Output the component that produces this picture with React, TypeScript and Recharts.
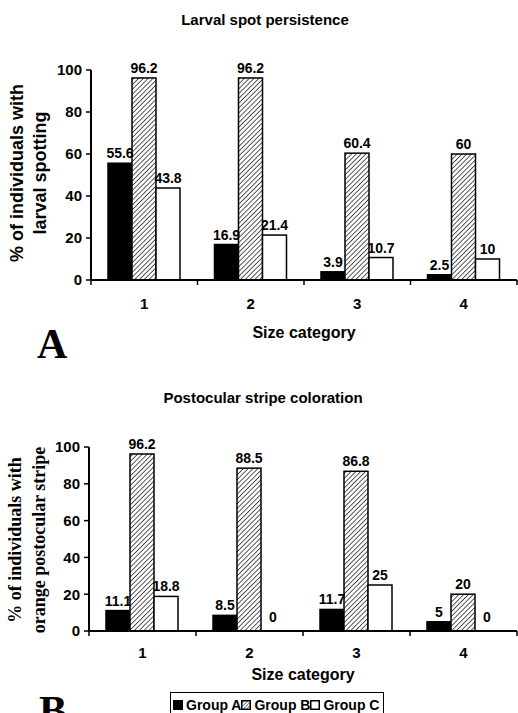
import React from 'react';
import { BarChart, Bar, XAxis, YAxis, LabelList, Legend } from 'recharts';

const categories = ['1', '2', '3', '4'];
const larvalGroupA = [55.6, 16.9, 3.9, 2.5];
const larvalGroupB = [96.2, 96.2, 60.4, 60];
const larvalGroupC = [43.8, 21.4, 10.7, 10];
const stripeGroupA = [11.1, 8.5, 11.7, 5];
const stripeGroupB = [96.2, 88.5, 86.8, 20];
const stripeGroupC = [18.8, 0, 25, 0];
const yTicks = [0, 20, 40, 60, 80, 100];
const seriesNames = ['Group A', 'Group B', 'Group C'];

const SANS = '"Liberation Sans", Arial, Helvetica, sans-serif';
const SERIF = '"Liberation Serif", "Times New Roman", serif';

const larvalData = categories.map((c, i) => ({ cat: c, a: larvalGroupA[i], b: larvalGroupB[i], c: larvalGroupC[i] }));
const stripeData = categories.map((c, i) => ({ cat: c, a: stripeGroupA[i], b: stripeGroupB[i], c: stripeGroupC[i] }));

const makeTick = (band: number, baseOff: number) => (props: any) => {
  const { x, y, payload } = props;
  const isLast = payload.value === categories[categories.length - 1];
  return (
    <g>
      <line x1={x - band / 2} y1={y} x2={x - band / 2} y2={y + 5} stroke="#000" strokeWidth={1.5} />
      {isLast && <line x1={x + band / 2} y1={y} x2={x + band / 2} y2={y + 5} stroke="#000" strokeWidth={1.5} />}
      <text x={x} y={y + baseOff} textAnchor="middle" fontFamily={SANS} fontWeight="bold" fontSize={15} fill="#000">
        {payload.value}
      </text>
    </g>
  );
};

const YLabel = (props: any) => {
  const { lines, xs, cy, font, size } = props;
  return (
    <g>
      {lines.map((l: string, i: number) => (
        <text
          key={i}
          x={xs[i]}
          y={cy}
          transform={`rotate(-90, ${xs[i]}, ${cy})`}
          textAnchor="middle"
          dominantBaseline="central"
          fontFamily={font}
          fontWeight="bold"
          fontSize={size}
          fill="#000"
        >
          {l}
        </text>
      ))}
    </g>
  );
};

const Hatch = ({ id }: { id: string }) => (
  <defs>
    <pattern id={id} patternUnits="userSpaceOnUse" width={3.4} height={3.4} patternTransform="rotate(45)">
      <rect width={3.4} height={3.4} fill="#fff" />
      <line x1={0} y1={0} x2={0} y2={3.4} stroke="#000" strokeWidth={1.3} />
    </pattern>
  </defs>
);

const ValueLabel = (props: any) => {
  const { x, y, width, height, value } = props;
  if (value === undefined || value === null) return null;
  const h = Number(height) || 0;
  const top = h < 0 ? Number(y) + h : Number(y);
  const isZero = Number(value) === 0;
  return (
    <text x={Number(x) + Number(width) / 2} y={isZero ? top - 8 : top - 5} textAnchor="middle" fontFamily={SANS} fontWeight="bold" fontSize={14} fill="#000">
      {String(value)}
    </text>
  );
};

const BarShape = (props: any) => {
  const { x, y, width, height, fill } = props;
  if (!(Math.abs(height) > 1.01)) return <g />;
  return <rect x={x} y={y} width={width} height={height} fill={fill} stroke="#000" strokeWidth={1.5} />;
};

const LegendBox = () => {
  const icons = [
    <rect x={0.5} y={0.5} width={9} height={9} fill="#000" stroke="#000" />,
    <rect x={0.75} y={0.75} width={8.5} height={8.5} fill="url(#hatchLegend)" stroke="#000" strokeWidth={1.5} />,
    <rect x={0.75} y={0.75} width={8.5} height={8.5} fill="#fff" stroke="#000" strokeWidth={1.5} />,
  ];
  return (
    <div
      style={{
        border: '1.5px solid #000',
        borderBottom: 'none',
        background: '#fff',
        display: 'flex',
        alignItems: 'center',
        height: 24,
        width: 214,
        padding: '0 0 0 2px',
        fontFamily: SANS,
        fontWeight: 'bold',
        fontSize: 14,
        color: '#000',
        whiteSpace: 'nowrap',
        boxSizing: 'border-box',
        overflow: 'hidden',
      }}
    >
      {seriesNames.map((n, i) => (
        <span key={n} style={{ display: 'flex', alignItems: 'center' }}>
          <svg width={10} height={10} style={{ marginRight: 3 }}>
            <defs>
              <pattern id="hatchLegend" patternUnits="userSpaceOnUse" width={2.5} height={2.5} patternTransform="rotate(45)">
                <rect width={2.5} height={2.5} fill="#fff" />
                <line x1={0} y1={0} x2={0} y2={2.5} stroke="#000" strokeWidth={1} />
              </pattern>
            </defs>
            {icons[i]}
          </svg>
          {n}
        </span>
      ))}
    </div>
  );
};

export default function App() {
  return (
    <div style={{ position: 'absolute', left: 0, top: 0, width: 518, height: 713, background: '#fff', overflow: 'hidden' }}>
      <div style={{ position: 'absolute', left: 0, top: 11, width: 530, textAlign: 'center', fontFamily: SANS, fontWeight: 'bold', fontSize: 15, lineHeight: '18px' }}>
        Larval spot persistence
      </div>
      <div style={{ position: 'absolute', left: 0, top: 0 }}>
        <BarChart width={518} height={345} data={larvalData} margin={{ top: 70, right: 1, bottom: 35, left: 31 }} barCategoryGap={17} barGap={0}>
          <Hatch id="hatchA" />
          <XAxis
            dataKey="cat"
            height={30}
            axisLine={{ stroke: '#000', strokeWidth: 2 }}
            tickLine={false}
            tickSize={0}
            tickMargin={0}
            tick={makeTick(106.5, 29)}
            interval={0}
            label={{ value: 'Size category', position: 'bottom', offset: 17, fill: '#000', fontSize: 16, fontWeight: 'bold', fontFamily: SANS }}
          />
          <YAxis
            width={60}
            domain={[0, 100]}
            ticks={yTicks}
            interval={0}
            axisLine={{ stroke: '#000', strokeWidth: 2 }}
            tickLine={{ stroke: '#000', strokeWidth: 1.5 }}
            tickSize={5}
            tickMargin={4}
            tick={{ fill: '#000', fontSize: 15, fontWeight: 'bold', fontFamily: SANS }}
            label={<YLabel lines={['% of individuals with', 'larval spotting']} xs={[17, 40]} cy={173} font={SANS} size={18} />}
          />
          <Bar dataKey="a" name={seriesNames[0]} fill="#000" shape={BarShape} isAnimationActive={false}>
            <LabelList dataKey="a" content={<ValueLabel />} />
          </Bar>
          <Bar dataKey="b" name={seriesNames[1]} fill="url(#hatchA)" shape={BarShape} isAnimationActive={false}>
            <LabelList dataKey="b" content={<ValueLabel />} />
          </Bar>
          <Bar dataKey="c" name={seriesNames[2]} fill="#fff" shape={BarShape} isAnimationActive={false}>
            <LabelList dataKey="c" content={<ValueLabel />} />
          </Bar>
        </BarChart>
      </div>
      <div style={{ position: 'absolute', left: 37, top: 323, fontFamily: SERIF, fontWeight: 'bold', fontSize: 42, lineHeight: '42px' }}>A</div>

      <div style={{ position: 'absolute', left: 0, top: 389, width: 526, textAlign: 'center', fontFamily: SANS, fontWeight: 'bold', fontSize: 15, lineHeight: '18px' }}>
        Postocular stripe coloration
      </div>
      <div style={{ position: 'absolute', left: 0, top: 370 }}>
        <BarChart width={518} height={343} data={stripeData} margin={{ top: 77, right: 1, bottom: 52, left: 31 }} barCategoryGap={17} barGap={0}>
          <Hatch id="hatchB" />
          <XAxis
            dataKey="cat"
            height={30}
            axisLine={{ stroke: '#000', strokeWidth: 2 }}
            tickLine={false}
            tickSize={0}
            tickMargin={0}
            tick={makeTick(107, 27)}
            interval={0}
            label={{ value: 'Size category', position: 'bottom', offset: 8, fill: '#000', fontSize: 16, fontWeight: 'bold', fontFamily: SANS }}
          />
          <YAxis
            width={58}
            domain={[0, 100]}
            ticks={yTicks}
            interval={0}
            axisLine={{ stroke: '#000', strokeWidth: 2 }}
            tickLine={{ stroke: '#000', strokeWidth: 1.5 }}
            tickSize={5}
            tickMargin={4}
            tick={{ fill: '#000', fontSize: 15, fontWeight: 'bold', fontFamily: SANS }}
            label={<YLabel lines={['% of individuals with', 'orange postocular stripe']} xs={[15, 39]} cy={170} font={SERIF} size={18} />}
          />
          <Legend
            layout="vertical"
            align="center"
            verticalAlign="middle"
            content={<LegendBox />}
            wrapperStyle={{ position: 'absolute', left: 170, top: 322, width: 214, height: 24, bottom: 'auto', right: 'auto' }}
          />
          <Bar dataKey="a" name={seriesNames[0]} fill="#000" shape={BarShape} minPointSize={1} isAnimationActive={false}>
            <LabelList dataKey="a" content={<ValueLabel />} />
          </Bar>
          <Bar dataKey="b" name={seriesNames[1]} fill="url(#hatchB)" shape={BarShape} minPointSize={1} isAnimationActive={false}>
            <LabelList dataKey="b" content={<ValueLabel />} />
          </Bar>
          <Bar dataKey="c" name={seriesNames[2]} fill="#fff" shape={BarShape} minPointSize={1} isAnimationActive={false}>
            <LabelList dataKey="c" content={<ValueLabel />} />
          </Bar>
        </BarChart>
      </div>
      <div style={{ position: 'absolute', left: 39, top: 690, fontFamily: SERIF, fontWeight: 'bold', fontSize: 42, lineHeight: '42px' }}>B</div>
    </div>
  );
}
